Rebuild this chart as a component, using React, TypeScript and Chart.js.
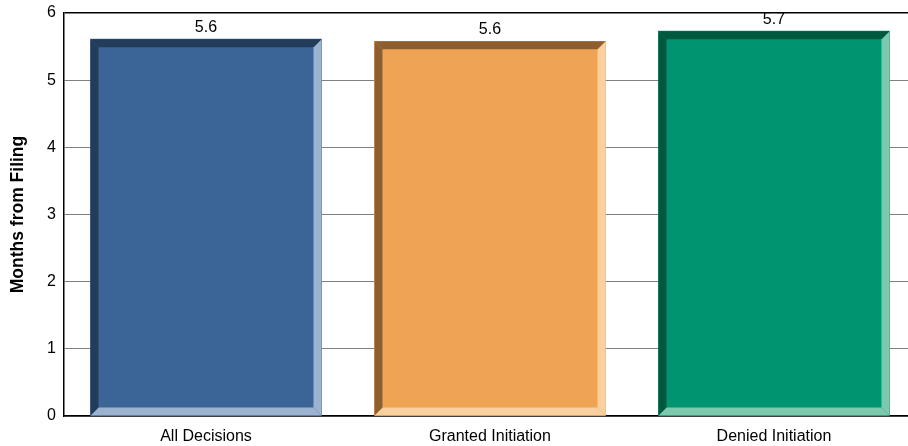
import React, { useEffect, useRef } from "react";
import { Chart, registerables } from "chart.js";

Chart.register(...registerables);

const categories = ["All Decisions", "Granted Initiation", "Denied Initiation"];
const values = [5.61, 5.58, 5.73];
const valueLabels = ["5.6", "5.6", "5.7"];
const yTicks = [0, 1, 2, 3, 4, 5, 6];
const faceColors = ["#3B6596", "#EFA354", "#009570"];
const darkColors = ["#233C5B", "#8D5F30", "#00583F"];
const lightColors = ["#9CB3CF", "#F9D09F", "#7CC9AE"];

const FONT = "'Liberation Sans', Arial, sans-serif";

const bevelPlugin = {
  id: "bevel",
  afterDatasetsDraw(chart: any) {
    const ctx = chart.ctx;
    const meta = chart.getDatasetMeta(0);
    const b = 8;
    meta.data.forEach((bar: any, i: number) => {
      const L = bar.x - bar.width / 2;
      const R = bar.x + bar.width / 2;
      const T = bar.y;
      const B = bar.base;
      const poly = (pts: number[][], color: string) => {
        ctx.beginPath();
        ctx.moveTo(pts[0][0], pts[0][1]);
        for (let k = 1; k < pts.length; k++) ctx.lineTo(pts[k][0], pts[k][1]);
        ctx.closePath();
        ctx.fillStyle = color;
        ctx.fill();
      };
      ctx.save();
      poly([[R, T], [R, B], [R - b, B - b], [R - b, T + b]], lightColors[i]);
      poly([[L, B], [R, B], [R - b, B - b], [L + b, B - b]], lightColors[i]);
      poly([[L, T], [R, T], [R - b, T + b], [L + b, T + b]], darkColors[i]);
      poly([[L, T], [L + b, T + b], [L + b, B - b], [L, B]], darkColors[i]);
      ctx.fillStyle = "#000";
      ctx.font = `16px ${FONT}`;
      ctx.textAlign = "center";
      ctx.textBaseline = "middle";
      ctx.fillText(valueLabels[i], bar.x, T - 12);
      ctx.restore();
    });
  },
};

export default function App() {
  const ref = useRef<HTMLCanvasElement>(null);
  useEffect(() => {
    const chart = new Chart(ref.current as HTMLCanvasElement, {
      type: "bar",
      data: {
        datasets: [
          {
            data: categories.map((c, i) => ({ x: i, y: values[i] })),
            backgroundColor: faceColors,
            borderWidth: 0,
            barThickness: 231,
          },
        ],
      },
      plugins: [bevelPlugin],
      options: {
        animation: false,
        responsive: false,
        maintainAspectRatio: false,
        layout: { padding: { top: 13, right: 0, left: 0, bottom: 0 } },
        plugins: { legend: { display: false }, tooltip: { enabled: false } },
        scales: {
          x: {
            type: "linear",
            min: -0.5,
            max: 2.472,
            offset: false,
            grid: { display: false, drawTicks: false },
            border: { display: true, color: "#000", width: 1.5 },
            afterBuildTicks: (scale: any) => {
              scale.ticks = categories.map((c, i) => ({ value: i }));
            },
            afterFit: (scale: any) => {
              scale.height = 30;
              scale.paddingLeft = 0;
              scale.paddingRight = 0;
            },
            ticks: {
              autoSkip: false,
              maxRotation: 0,
              padding: 11,
              color: "#000",
              font: { family: FONT, size: 16 },
              callback: (v: any) => categories[v as number] ?? "",
            },
          },
          y: {
            min: 0,
            max: 6,
            afterBuildTicks: (scale: any) => {
              scale.ticks = yTicks.map((v) => ({ value: v }));
            },
            afterFit: (scale: any) => {
              scale.width = 64;
              scale.paddingTop = 0;
              scale.paddingBottom = 0;
            },
            grid: {
              drawTicks: false,
              color: (c: any) => (c.tick && c.tick.value === 6 ? "#000" : "#808080"),
              lineWidth: (c: any) => (c.tick && c.tick.value === 6 ? 1.5 : 1),
            },
            border: { display: true, color: "#000", width: 1.5 },
            ticks: {
              padding: 8,
              color: "#000",
              font: { family: FONT, size: 16 },
            },
            title: {
              display: true,
              text: "Months from Filing",
              color: "#000",
              font: { family: FONT, size: 17.5, weight: "bold" },
              padding: { top: 8, bottom: 0 },
            },
          },
        },
      },
    } as any);
    return () => chart.destroy();
  }, []);
  return (
    <div style={{ position: "absolute", left: 0, top: 0, width: 908, height: 446, background: "#fff" }}>
      <canvas ref={ref} width={908} height={446} style={{ display: "block" }} />
    </div>
  );
}
